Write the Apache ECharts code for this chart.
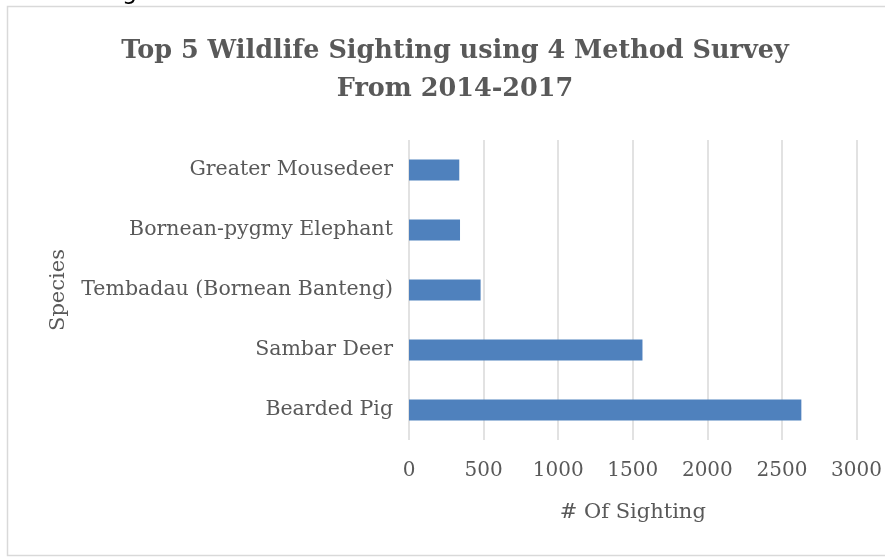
<!DOCTYPE html>
<html>
<head>
<meta charset="utf-8">
<script src="https://cdn.jsdelivr.net/npm/echarts@6/dist/echarts.min.js"></script>
<style>html,body{margin:0;padding:0;background:#fff;}#c{width:885px;height:557px;}</style>
</head>
<body>
<div id="c"></div>
<script>
const categories = ['Bearded Pig', 'Sambar Deer', 'Tembadau (Bornean Banteng)', 'Bornean-pygmy Elephant', 'Greater Mousedeer'];
const sightings = [2630, 1565, 480, 342, 337];
const xTicks = [0, 500, 1000, 1500, 2000, 2500, 3000];

const chart = echarts.init(document.getElementById('c'));
const serif = '"DejaVu Serif", serif';
chart.setOption({
  animation: false,
  backgroundColor: '#fff',
  title: {
    text: 'Top 5 Wildlife Sighting using 4 Method Survey\nFrom 2014-2017',
    left: 450, top: 27, textAlign: 'center',
    textStyle: { fontFamily: serif, fontSize: 25.5, fontWeight: 'bold', color: '#595959', lineHeight: 38 }
  },
  graphic: [
    { type: 'rect', shape: { x: 7.5, y: 6.5, width: 900, height: 549 }, style: { fill: 'none', stroke: '#d9d9d9', lineWidth: 1.5 }, silent: true, z: -1 },
    { type: 'text', left: 122, top: -19, style: { text: 'g', font: '24px "DejaVu Sans", sans-serif', fill: '#000' } }
  ],
  grid: { left: 409, right: 28, top: 140, bottom: 117 },
  xAxis: {
    type: 'value', min: xTicks[0], max: xTicks[xTicks.length - 1], interval: 500,
    name: '# Of Sighting', nameLocation: 'middle', nameGap: 62,
    nameTextStyle: { fontFamily: serif, fontSize: 21, color: '#595959' },
    axisLine: { show: false }, axisTick: { show: false },
    axisLabel: { fontFamily: serif, fontSize: 20, color: '#595959', margin: 21, formatter: v => String(v) },
    splitLine: { lineStyle: { color: '#d9d9d9', width: 1.5 } }
  },
  yAxis: {
    type: 'category', data: categories,
    name: 'Species', nameLocation: 'middle', nameGap: 340, nameRotate: 90,
    nameTextStyle: { fontFamily: serif, fontSize: 21, color: '#595959' },
    axisLine: { show: false }, axisTick: { show: false },
    axisLabel: { fontFamily: serif, fontSize: 20.5, color: '#595959', margin: 16 }
  },
  series: [{
    type: 'bar', data: sightings, barWidth: 21,
    itemStyle: { color: '#4f81bd' }
  }]
});
</script>
</body>
</html>
